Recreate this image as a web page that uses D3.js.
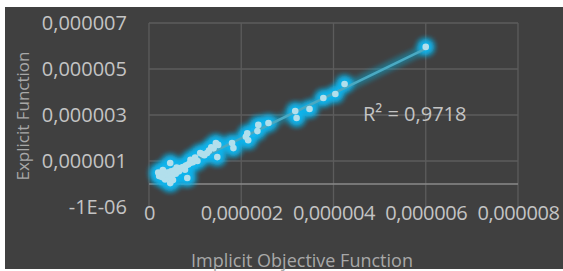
<!DOCTYPE html>
<meta charset="utf-8">
<head>
    <title></title>
    <script src="https://cdn.jsdelivr.net/npm/d3@7"></script>
</head>

<style>
    body{ margin:0; background:#fff; }
    text{
      font-family: "Open Sans", sans-serif;
    }
</style>
<svg width="563" height="271"></svg>

<script>
    // values (units of the axes)
    var implicitVals = [6.0e-6, 4.24e-6, 4.04e-6, 3.78e-6, 3.48e-6, 3.2e-6, 3.17e-6,
        2.59e-6, 2.37e-6, 2.35e-6, 2.15e-6, 2.13e-6, 2.1e-6, 1.83e-6, 1.8e-6,
        1.5e-6, 1.48e-6, 1.45e-6, 1.4e-6, 1.35e-6, 1.3e-6, 1.26e-6, 1.2e-6, 1.15e-6, 1.11e-6,
        1.05e-6, 1.0e-6, 0.95e-6, 0.9e-6, 0.89e-6, 0.85e-6, 0.83e-6, 0.8e-6, 0.78e-6, 0.74e-6,
        0.7e-6, 0.65e-6, 0.6e-6, 0.58e-6, 0.55e-6, 0.52e-6, 0.5e-6, 0.48e-6, 0.46e-6, 0.46e-6,
        0.42e-6, 0.4e-6, 0.39e-6, 0.35e-6, 0.33e-6, 0.3e-6, 0.28e-6, 0.25e-6, 0.22e-6, 0.2e-6];
    var explicitVals = [5.96e-6, 4.35e-6, 3.91e-6, 3.74e-6, 3.26e-6, 2.87e-6, 3.17e-6,
        2.65e-6, 2.57e-6, 2.3e-6, 1.9e-6, 2.2e-6, 2.05e-6, 1.56e-6, 1.78e-6,
        1.7e-6, 1.17e-6, 1.78e-6, 1.55e-6, 1.6e-6, 1.45e-6, 1.35e-6, 1.25e-6, 1.3e-6, 1.35e-6,
        1.0e-6, 1.15e-6, 0.95e-6, 1.05e-6, 0.91e-6, 0.85e-6, 0.26e-6, 0.8e-6, 0.62e-6, 0.74e-6,
        0.7e-6, 0.55e-6, 0.72e-6, 0.45e-6, 0.6e-6, 0.17e-6, 0.38e-6, 0.55e-6, 0.91e-6, 0.04e-6,
        0.3e-6, 0.5e-6, 0.48e-6, 0.2e-6, 0.4e-6, 0.61e-6, 0.3e-6, 0.45e-6, 0.35e-6, 0.5e-6];

    var xTickValues = [0, 2e-6, 4e-6, 6e-6, 8e-6],
        xTickLabels = ['0', '0,000002', '0,000004', '0,000006', '0,000008'],
        yTickValues = [-1e-6, 1e-6, 3e-6, 5e-6, 7e-6],
        yTickLabels = ['-1E-06', '0,000001', '0,000003', '0,000005', '0,000007'],
        rSquaredText = 'R² = 0,9718';

    var plot = {left:149, right:518, top:23, bottom:207};

    var svg = d3.select('svg');

    // glow filter for the markers
    var defs = svg.append('defs');
    var f = defs.append('filter').attr('id','glow').attr('x','-100%').attr('y','-100%').attr('width','300%').attr('height','300%');
    f.append('feGaussianBlur').attr('in','SourceGraphic').attr('stdDeviation', 3.5).attr('result','b');
    var fm = f.append('feMerge');
    fm.append('feMergeNode').attr('in','b');
    fm.append('feMergeNode').attr('in','b');
    fm.append('feMergeNode').attr('in','b');

    svg.append('rect')
        .attr('x',5).attr('y',7)
        .attr('width',558).attr('height',262)
        .style('fill','#404040');

    var x = d3.scaleLinear().domain([0, 8e-6]).range([plot.left, plot.right]),
        y = d3.scaleLinear().domain([-1e-6, 7e-6]).range([plot.bottom, plot.top]);

    // grid
    var g = svg.append('g');
    g.selectAll('line.hg').data(yTickValues.slice(1)).enter().append('line')
        .attr('x1', plot.left).attr('x2', plot.right)
        .attr('y1', function(d){ return y(d); }).attr('y2', function(d){ return y(d); })
        .style('stroke','#5c5c5c').style('stroke-width',1.3);
    g.selectAll('line.vg').data(xTickValues).enter().append('line')
        .attr('x1', function(d){ return x(d); }).attr('x2', function(d){ return x(d); })
        .attr('y1', plot.top).attr('y2', plot.bottom)
        .style('stroke','#5c5c5c').style('stroke-width',1.3);
    // zero line
    g.append('line')
        .attr('x1', plot.left).attr('x2', plot.right)
        .attr('y1', y(0)).attr('y2', y(0))
        .style('stroke','#8a8a8a').style('stroke-width',1.6);

    // axes labels
    var yAxis = d3.axisLeft(y).tickValues(yTickValues).tickSize(0).tickPadding(0)
        .tickFormat(function(d,i){ return yTickLabels[i]; });
    var ya = svg.append('g').attr('transform','translate(127,0)').call(yAxis);
    var xAxis = d3.axisBottom(x).tickValues(xTickValues).tickSize(0).tickPadding(0)
        .tickFormat(function(d,i){ return xTickLabels[i]; });
    var xa = svg.append('g').attr('transform','translate(0,206)').call(xAxis);
    [ya, xa].forEach(function(a){
        a.select('.domain').remove();
        a.selectAll('text').style('font-size','20px').style('fill','#c4c4c4').style('font-family','"Open Sans", sans-serif');
    });
    xa.selectAll('text').style('letter-spacing','-0.4px');

    // trendline by least squares
    var mx = d3.mean(implicitVals), my = d3.mean(explicitVals),
        sxy = d3.sum(implicitVals, function(v,i){ return (v-mx)*(explicitVals[i]-my); }),
        sxx = d3.sum(implicitVals, function(v){ return (v-mx)*(v-mx); }),
        slope = sxy/sxx, icpt = my - slope*mx,
        xmin = d3.min(implicitVals), xmax = d3.max(implicitVals);

    var pts = implicitVals.map(function(v,i){ return [v, explicitVals[i]]; });

    // glow layer
    var glow = svg.append('g').attr('filter','url(#glow)');
    glow.append('line')
        .attr('x1', x(xmin)).attr('y1', y(slope*xmin+icpt))
        .attr('x2', x(xmax)).attr('y2', y(slope*xmax+icpt))
        .style('stroke','#1fb6e6').style('stroke-width',4).style('opacity',0.4);
    glow.selectAll('circle').data(pts).enter().append('circle')
        .attr('cx', function(d){ return x(d[0]); })
        .attr('cy', function(d){ return y(d[1]); })
        .attr('r', 6.5)
        .style('fill','#12b4ec');

    svg.append('line')
        .attr('x1', x(xmin)).attr('y1', y(slope*xmin+icpt))
        .attr('x2', x(xmax)).attr('y2', y(slope*xmax+icpt))
        .style('stroke','#4aa9c2').style('stroke-width',2.5);

    svg.append('g').selectAll('circle').data(pts).enter().append('circle')
        .attr('cx', function(d){ return x(d[0]); })
        .attr('cy', function(d){ return y(d[1]); })
        .attr('r', 3.3)
        .style('fill','#b2dfec');

    svg.append('text').text(rSquaredText)
        .attr('x', 363).attr('y', 121)
        .style('font-size','20px').style('fill','#c4c4c4');

    svg.append('text').text('Implicit Objective Function')
        .attr('x', 302).attr('y', 267)
        .attr('text-anchor','middle')
        .style('font-size','18px').style('fill','#a8a8a8');

    svg.append('text').text('Explicit Function')
        .attr('transform','translate(29,116) rotate(-90)')
        .attr('text-anchor','middle')
        .style('font-size','17px').style('fill','#a8a8a8');
</script>
